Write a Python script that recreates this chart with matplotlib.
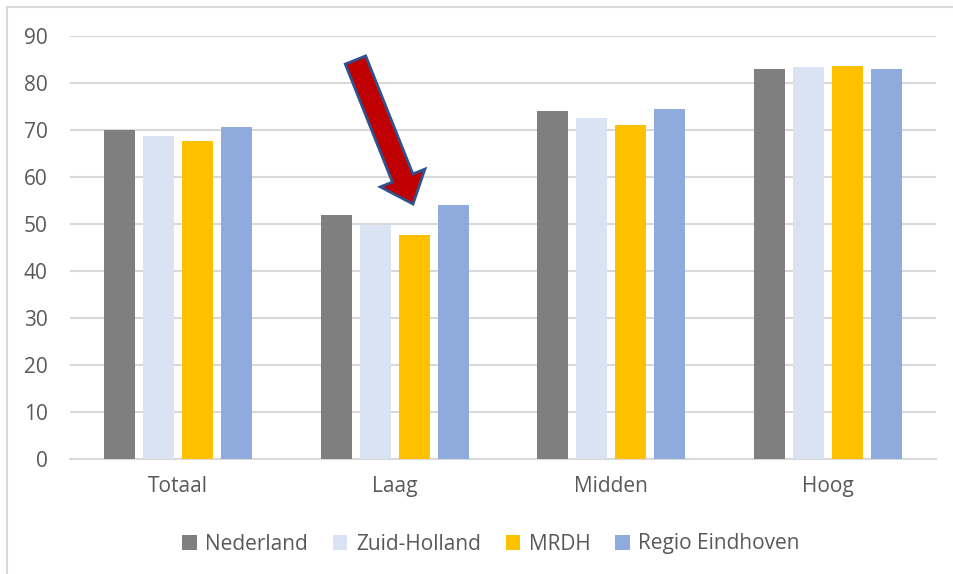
import numpy as np
import matplotlib.pyplot as plt
from matplotlib.patches import Polygon
from matplotlib.lines import Line2D
from matplotlib.transforms import IdentityTransform

categories = ['Totaal', 'Laag', 'Midden', 'Hoog']
series = ['Nederland', 'Zuid-Holland', 'MRDH', 'Regio Eindhoven']
nederland = [70.1, 51.9, 74.0, 82.9]
zuid_holland = [68.8, 49.8, 72.6, 83.3]
mrdh = [67.6, 47.6, 71.0, 83.7]
regio_eindhoven = [70.6, 54.0, 74.4, 82.9]
yticks = [0, 10, 20, 30, 40, 50, 60, 70, 80, 90]

colors = ['#7F7F7F', '#DAE3F3', '#FFC000', '#8FAADC']
text_color = '#595959'
grid_color = '#D9D9D9'

plt.rcParams['font.family'] = ['Open Sans', 'DejaVu Sans']

W, H = 954, 574
fig = plt.figure(figsize=(W / 100, H / 100), dpi=100)
ax = fig.add_axes([70 / W, 1 - 459 / H, (936 - 70) / W, (459 - 36) / H])

x = np.arange(len(categories))
pitch = 0.18
width = 0.143
for i, (name, vals) in enumerate(zip(series, [nederland, zuid_holland, mrdh, regio_eindhoven])):
    ax.bar(x + (i - 1.5) * pitch, vals, width, color=colors[i], label=name, zorder=3)

ax.set_xlim(-0.5, 3.5)
ax.set_ylim(0, 90)
ax.set_yticks(yticks)
ax.set_xticks(x)
ax.set_xticklabels(categories)
ax.yaxis.grid(True, color=grid_color, linewidth=1.5, zorder=0)
ax.tick_params(axis='both', length=0, labelsize=15, labelcolor=text_color)
ax.tick_params(axis='y', pad=16)
ax.tick_params(axis='x', pad=12)
for s in ['top', 'right', 'left']:
    ax.spines[s].set_visible(False)
ax.spines['bottom'].set_color(grid_color)
ax.spines['bottom'].set_linewidth(1.5)

leg = fig.legend(loc='center', bbox_to_anchor=(491 / W, 1 - 544 / H), ncol=4,
                 frameon=False, fontsize=15, handlelength=0.7, handleheight=0.7,
                 handletextpad=0.4, columnspacing=1.2, labelcolor=text_color)

# chart border (left and top edges only)
fig.add_artist(Line2D([7 / W, 7 / W], [0, 1 - 7 / H], transform=fig.transFigure,
                      color=grid_color, linewidth=1.5))
fig.add_artist(Line2D([7 / W, 1], [1 - 7 / H, 1 - 7 / H], transform=fig.transFigure,
                      color=grid_color, linewidth=1.5))


# block arrow, in pixel coords (y from top)
def block_arrow(tail, tip, shaft_w, head_w, head_l):
    tail = np.array(tail, float)
    tip = np.array(tip, float)
    d = tip - tail
    d = d / np.hypot(*d)
    n = np.array([-d[1], d[0]])
    base = tip - d * head_l
    pts = [tail + n * shaft_w / 2, base + n * shaft_w / 2, base + n * head_w / 2, tip,
           base - n * head_w / 2, base - n * shaft_w / 2, tail - n * shaft_w / 2]
    return np.array([[p[0], H - p[1]] for p in pts])


arrow = Polygon(block_arrow((355.5, 60), (413, 204), 22, 48, 28), closed=True,
                facecolor='#C00000', edgecolor='#2F528F', linewidth=2,
                transform=IdentityTransform())
fig.add_artist(arrow)

fig.savefig('out.png', dpi=100)
